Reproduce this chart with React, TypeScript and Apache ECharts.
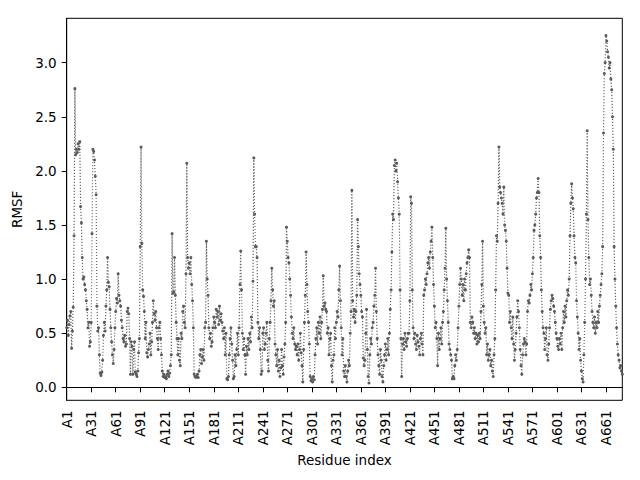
import React, { useEffect, useRef } from "react";
import * as echarts from "echarts";

// RMSF values per residue (A1 ... A681)
const rmsfPart1: number[] = [
  0.55, 0.62, 0.48, 0.58, 0.66, 0.70, 0.36, 0.52, 0.74, 1.40,
  2.76, 2.15, 2.20, 2.17, 2.25, 2.20, 2.27, 1.67, 1.52, 1.20,
  1.00, 1.02, 0.95, 0.90, 0.80, 0.72, 0.55, 0.60, 0.38, 0.42,
  0.60, 1.42, 2.20, 2.18, 2.10, 1.95, 1.78, 0.75, 0.52, 0.55,
  0.30, 0.13, 0.11, 0.14, 0.25, 0.48, 0.60, 0.52, 0.75, 0.90,
  1.20, 0.97, 0.93, 0.72, 0.55, 0.42, 0.30, 0.22, 0.35, 0.55,
  0.70, 0.82, 0.78, 1.05, 0.85, 0.80, 0.75, 0.62, 0.55, 0.45,
  0.42, 0.48, 0.38, 0.40, 0.70, 0.73, 0.68, 0.45, 0.12, 0.42,
  0.38, 0.12, 0.35, 0.42, 0.14, 0.12, 0.10, 0.15, 0.32, 0.45,
  1.30, 2.22, 1.33, 0.90, 0.84, 0.70, 0.45, 0.60, 0.32, 0.28,
  0.35, 0.40, 0.50, 0.30, 0.42, 0.60, 0.80, 0.68, 0.62, 0.70,
  0.55, 0.45, 0.35, 0.55, 0.60, 0.45, 0.30, 0.15, 0.10,
  0.12, 0.09, 0.10, 0.08, 0.12, 0.15, 0.10, 0.13, 0.20, 0.30,
  1.42, 0.87, 0.88, 1.20, 0.85, 0.60, 0.45, 0.30, 0.45, 0.25,
  0.20, 0.50, 0.45, 0.70, 0.75, 0.60, 0.55, 1.05, 2.07, 1.20,
  1.10, 1.15, 1.05, 1.20, 0.95, 0.80, 0.55, 0.12, 0.10, 0.09,
  0.10, 0.12, 0.09, 0.15, 0.30, 0.35, 0.22, 0.28, 0.35, 0.25,
];

const rmsfPart2: number[] = [
  0.55, 0.60, 1.35, 1.00, 0.85, 0.55, 0.45, 0.50, 0.38, 0.42,
  0.55, 0.65, 0.60, 0.55, 0.72, 0.65, 0.70, 0.58, 0.75, 0.62,
  0.68, 0.60, 0.52, 0.45, 0.55, 0.30, 0.50, 0.08, 0.07, 0.10,
  0.30, 0.45, 0.55, 0.40, 0.25, 0.08, 0.10, 0.30, 0.20, 0.35,
  0.50, 0.30, 0.55, 0.95, 1.26, 0.90, 0.50, 0.35, 0.45, 0.30,
  0.12, 0.38, 0.30, 0.45, 0.35, 0.50, 0.42, 0.65, 0.55, 0.98,
  2.12, 1.60, 1.30, 1.30, 1.20, 0.60, 0.45, 0.55, 0.35, 0.12,
  0.15, 0.50, 0.55, 0.35, 0.40, 0.50, 0.60, 0.25, 0.15, 0.45,
  0.60, 0.80, 1.10, 0.90, 0.75, 0.80, 0.40, 0.30, 0.20, 0.35,
  0.15, 0.25, 0.10, 0.18, 0.35, 0.20, 0.12, 0.28, 0.40, 0.60,
  1.48, 1.35, 1.20, 1.15, 1.00, 0.85, 0.65, 0.50, 0.45, 0.55,
  0.40, 0.35, 0.38, 0.30, 0.40, 0.25, 0.35, 0.50, 0.32, 0.20,
  0.05, 0.35, 0.60, 0.85, 1.25, 0.95, 0.70, 0.60, 0.40, 0.10,
  0.06, 0.08, 0.05, 0.10, 0.07, 0.30, 0.45, 0.55, 0.40, 0.60,
  0.50, 0.65, 0.45, 0.60, 0.72, 1.03, 0.75, 0.78, 0.72, 0.70,
  0.50, 0.55, 0.30, 0.45, 0.50, 0.20, 0.05, 0.25, 0.30,
  0.55, 0.45, 0.60, 0.70, 0.65, 0.90, 1.12, 0.80, 0.55, 0.30,
];

const rmsfPart3: number[] = [
  0.45, 0.15, 0.10, 0.20, 0.10, 0.05, 0.15, 0.25, 0.20, 0.50,
  0.70, 1.82, 0.80, 0.65, 0.72, 0.60, 0.70, 0.85, 1.55, 1.30,
  1.05, 0.95, 0.85, 0.70, 0.65, 0.27, 0.20, 0.25, 0.50, 0.72,
  0.35, 0.10, 0.04, 0.30, 0.45, 0.40, 0.55, 0.60, 0.75, 0.85,
  1.10, 0.70, 0.45, 0.30, 0.20, 0.12, 0.35, 0.25, 0.10, 0.05,
  0.20, 0.30, 0.40, 0.25, 0.35, 0.45, 0.30, 0.50, 0.72, 0.90,
  1.25, 1.60, 1.55, 2.05, 2.10, 2.00, 2.07, 1.90, 1.75, 1.60,
  0.90, 0.45, 0.10, 0.40, 0.45, 0.35, 0.50, 0.42, 0.38, 0.45,
  0.50, 0.50, 0.80, 1.76, 1.70, 0.90, 0.55, 0.45, 0.50, 0.40,
  0.35, 0.48, 0.42, 0.38, 0.30, 0.45, 0.50, 0.40, 0.30, 0.85,
  0.90, 1.00, 0.95, 1.05, 1.15, 1.20, 1.10, 1.25, 1.35, 1.48,
  1.20, 0.95, 0.75, 0.55, 0.60, 0.45, 0.20, 0.50, 0.35, 0.45,
  0.55, 0.40, 0.60, 0.70, 0.90, 1.10, 1.47, 1.00, 0.80, 0.60,
  0.40, 0.35, 0.30, 0.25, 0.08, 0.10, 0.08, 0.20, 0.30, 0.25,
  0.35, 0.55, 0.75, 0.95, 1.10, 1.00, 0.85, 0.95, 0.80, 1.00,
  0.90, 1.05, 1.15, 1.20, 1.27, 1.20, 0.60, 0.55, 0.65, 0.60,
  0.50, 0.55, 0.45, 0.50, 0.40, 0.48, 0.42, 0.50, 0.45, 0.70,
];

const rmsfPart4: number[] = [
  0.95, 1.35, 0.75, 0.60, 0.50, 0.55, 0.30, 0.40, 0.25, 0.30,
  0.35, 0.20, 0.25, 0.15, 0.10, 0.30, 0.45, 0.90, 1.40, 1.35,
  1.70, 2.22, 1.85, 1.80, 1.75, 1.70, 1.60, 1.85, 1.50, 1.45,
  1.35, 1.10, 0.87, 0.85, 0.60, 0.70, 0.55, 0.45, 0.65, 0.40,
  0.25, 0.35, 0.50, 0.65, 0.80, 0.70, 0.55, 0.35, 0.20, 0.12,
  0.30, 0.40, 0.45, 0.42, 0.30, 0.40, 0.70, 0.80, 0.78,
  0.85, 0.95, 0.90, 1.05, 1.20, 1.45, 1.50, 1.60, 1.75, 1.80,
  1.93, 1.80, 1.40, 1.20, 0.90, 0.70, 0.55, 0.50, 0.35, 0.45,
  0.55, 0.30, 0.25, 0.40, 0.55, 0.72, 0.80, 0.85, 0.82, 0.75,
  0.70, 0.60, 0.50, 0.45, 0.38, 0.35, 0.45, 0.40, 0.50, 0.35,
  0.55, 0.70, 0.60, 0.75, 0.65, 0.80, 0.90, 0.85, 1.00, 1.40,
  1.70, 1.88, 1.75, 1.65, 1.40, 1.20, 1.15, 0.80, 0.65, 0.50,
  0.35, 0.45, 0.25, 0.15, 0.08, 0.05, 0.30, 0.60, 1.00, 1.60,
  2.37, 1.55, 1.20, 0.95, 1.00, 0.85, 0.70, 0.60, 0.55, 0.65,
  0.50, 0.60, 0.55, 0.70, 0.60, 0.75, 0.85, 0.95, 1.05, 1.30,
  2.35, 2.90, 3.00, 3.25, 3.20, 3.10, 3.05, 2.95, 3.00, 2.85,
  2.75, 2.50, 2.20, 1.30, 1.00, 0.75, 0.55, 0.40, 0.30, 0.25,
  0.18, 0.20, 0.15, 0.12,
];

const rmsfValues: number[] = [...rmsfPart1, ...rmsfPart2, ...rmsfPart3, ...rmsfPart4];
const residueLabels: string[] = rmsfValues.map((_, i) => "A" + (i + 1));
const yTickValues: number[] = [0, 0.5, 1.0, 1.5, 2.0, 2.5, 3.0];

const FONT = "DejaVu Sans";

export default function App() {
  const ref = useRef<HTMLDivElement>(null);

  useEffect(() => {
    if (!ref.current) return;
    const chart = echarts.init(ref.current, undefined, { renderer: "svg" });
    chart.setOption({
      animation: false,
      backgroundColor: "#ffffff",
      grid: {
        left: 66.7,
        right: 17.7,
        top: 18.3,
        bottom: 79.7,
        containLabel: false,
        show: true,
        borderColor: "#000000",
        borderWidth: 1,
        backgroundColor: "transparent",
      },
      xAxis: {
        type: "category",
        data: residueLabels,
        boundaryGap: false,
        name: "Residue index",
        nameLocation: "middle",
        nameGap: 47,
        nameTextStyle: { fontFamily: FONT, fontSize: 13.5, color: "#000" },
        axisLine: { show: true, lineStyle: { color: "#000", width: 1 } },
        axisTick: { show: true, interval: 29, length: 5, lineStyle: { color: "#000", width: 1 } },
        axisLabel: {
          interval: 29,
          rotate: 90,
          margin: 10,
          fontFamily: FONT,
          fontSize: 13.5,
          color: "#000",
        },
        splitLine: { show: false },
      },
      yAxis: {
        type: "value",
        min: -0.12,
        max: 3.41,
        name: "RMSF",
        nameLocation: "middle",
        nameGap: 32,
        nameTextStyle: { fontFamily: FONT, fontSize: 13.5, color: "#000" },
        axisLine: { show: true, lineStyle: { color: "#000", width: 1 } },
        axisTick: {
          show: true,
          length: 5,
          customValues: yTickValues,
          lineStyle: { color: "#000", width: 1 },
        },
        axisLabel: {
          customValues: yTickValues,
          margin: 10,
          fontFamily: FONT,
          fontSize: 13.5,
          color: "#000",
          formatter: (v: number) => v.toFixed(1),
        },
        splitLine: { show: false },
      },
      series: [
        {
          type: "line",
          data: rmsfValues,
          symbol: "circle",
          symbolSize: 3,
          showSymbol: true,
          showAllSymbol: true,
          itemStyle: { color: "#5a5a5a" },
          lineStyle: { color: "#666666", width: 1.2, type: [1.2, 1.8] },
          emphasis: { disabled: true },
        },
      ],
    });
    return () => chart.dispose();
  }, []);

  return (
    <div
      ref={ref}
      style={{ position: "fixed", left: 0, top: 0, width: 640, height: 480, background: "#fff" }}
    />
  );
}
